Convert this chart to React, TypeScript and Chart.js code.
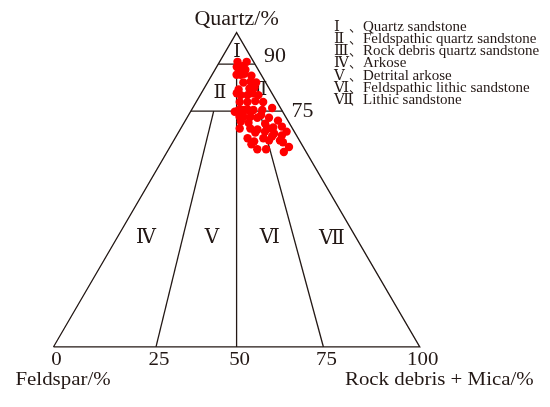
import React, { useEffect, useRef } from "react";
import { Chart, registerables } from "chart.js";

Chart.register(...registerables);

// Sample compositions (%): Q = quartz, R = rock debris + mica; feldspar = 100 - Q - R
const quartz = [
  90.7, 90.7, 89.1, 89.4, 89.4, 88.2, 87.9, 88.2, 86.6, 86.6,
  86.9, 86.3, 84.1, 84.4, 84.1, 82.2, 82.6, 81.9, 80.7, 80.1,
  80.1, 80.7, 80.1, 77.9, 77.9, 78.2, 77.9, 76.0, 74.8, 75.4,
  75.4, 75.4, 75.4, 75.4, 75.4, 73.2, 73.2, 73.2, 72.9, 72.9,
  71.7, 71.3, 71.0, 72.0, 69.5, 69.5, 69.2, 69.5, 69.8, 70.1,
  68.2, 68.5, 67.9, 66.4, 66.4, 67.0, 67.3, 65.4, 65.7, 65.7,
  62.9, 62.9, 63.6, 62.0, 73.8, 64.5, 65.1, 68.5,
];
const rockDebris = [
  4.9, 7.4, 5.5, 6.1, 7.2, 6.5, 7.7, 8.3, 6.7, 7.8,
  8.7, 10.9, 9.8, 11.6, 13.3, 12.4, 13.6, 9.6, 9.7, 11.1,
  12.9, 14.0, 15.9, 11.9, 14.0, 16.0, 18.3, 21.7, 12.1, 12.9,
  13.7, 14.5, 15.5, 16.9, 19.3, 14.2, 15.3, 17.2, 19.2, 22.4,
  15.3, 17.6, 22.3, 25.3, 16.1, 19.0, 21.1, 23.9, 25.1, 27.3,
  21.0, 23.5, 26.3, 19.8, 24.1, 26.2, 28.7, 22.1, 26.0, 29.0,
  24.2, 26.6, 32.5, 31.9, 19.8, 21.8, 30.1, 29.4,
];

// Classification
const romanNumerals = ["Ⅰ", "Ⅱ", "Ⅲ", "Ⅳ", "Ⅴ", "Ⅵ", "Ⅶ"];
const classNames = [
  "Quartz sandstone",
  "Feldspathic quartz sandstone",
  "Rock debris quartz sandstone",
  "Arkose",
  "Detrital arkose",
  "Feldspathic lithic sandstone",
  "Lithic sandstone",
];
const quartzLevels = [90, 75];
const quartzLevelLabels = ["90", "75"];
// Dividing lines: top end at quartz level with R/(F+R) share, bottom end on the base
const dividerTopQ = [90, 75, 75];
const dividerTopShare = [50, 25, 75];
const dividerBaseShare = [50, 28, 73.7];
const baseTickLabels = ["0", "25", "50", "75", "100"];
const baseTickShares = [0, 28, 50, 73.7, 100];

// Layout (not data): anchor compositions of region numerals
const regionLabelQ = [93.8, 80.7, 81.6, 34.6, 34.6, 34.6, 34.3];
const regionLabelR = [3.2, 5.1, 15.1, 8.0, 26.0, 41.8, 58.9];

const INK = "#231815";
const DOT = "#ff0000";
const SERIF = "'Liberation Serif', 'Times New Roman', 'DejaVu Serif', 'Noto Sans CJK SC', serif";

const toXY = (q: number, r: number) => ({ x: r + q / 2, y: q });

function drawText(
  ctx: CanvasRenderingContext2D,
  text: string,
  x: number,
  y: number,
  size: number,
  align: CanvasTextAlign,
  stretch = 1,
  baseline: CanvasTextBaseline = "alphabetic"
) {
  ctx.save();
  ctx.font = `${size}px ${SERIF}`;
  ctx.textAlign = align;
  ctx.textBaseline = baseline;
  ctx.fillStyle = INK;
  ctx.translate(x, y);
  ctx.scale(stretch, 1);
  ctx.fillText(text, 0, 0);
  ctx.restore();
}

const textPlugin = {
  id: "ternaryText",
  beforeDatasetsDraw(chart: any) {
    const { ctx } = chart;
    const xs = chart.scales.x;
    const ys = chart.scales.y;
    const P = (q: number, r: number) => {
      const p = toXY(q, r);
      return [xs.getPixelForValue(p.x), ys.getPixelForValue(p.y)];
    };
    const apex = P(100, 0);
    const left = P(0, 0);
    const right = P(0, 100);

    // Apex title
    drawText(ctx, "Quartz/%", apex[0], apex[1] - 8, 20, "center", 1.1);

    // Quartz level labels
    quartzLevels.forEach((q, i) => {
      const e = P(q, 100 - q);
      const dy = i === 0 ? -2 : 6;
      drawText(ctx, quartzLevelLabels[i], e[0] + 20, e[1] + dy, 20, "center", 1.1);
    });

    // Base tick labels
    baseTickShares.forEach((s, i) => {
      const b = P(0, s);
      drawText(ctx, baseTickLabels[i], b[0] + 3, left[1] + 18, 19, "center", 1.1);
    });

    // Axis titles
    drawText(ctx, "Feldspar/%", left[0] - 38, left[1] + 38, 19, "left", 1.1);
    drawText(ctx, "Rock debris + Mica/%", right[0] + 114, right[1] + 38, 19, "right", 1.1);

    // Region numerals
    romanNumerals.forEach((n, i) => {
      const c = P(regionLabelQ[i], regionLabelR[i]);
      drawText(ctx, n, c[0], c[1], i < 3 ? 19 : 20, "center", 1, "middle");
    });

    // Legend
    romanNumerals.forEach((n, i) => {
      const yy = 30.5 + i * 12.3;
      drawText(ctx, n, 334, yy, 15, "left");
      drawText(ctx, "、", 349, yy, 13, "left");
      drawText(ctx, classNames[i], 363, yy, 15, "left");
    });
  },
};

const lineStyle = {
  showLine: true,
  pointRadius: 0,
  borderColor: INK,
  borderWidth: 1.3,
  fill: false,
  tension: 0,
};

export default function App() {
  const ref = useRef<HTMLCanvasElement | null>(null);

  useEffect(() => {
    if (!ref.current) return;
    const samples = quartz.map((q, i) => toXY(q, rockDebris[i]));
    const outline = [toXY(0, 0), toXY(100, 0), toXY(0, 100), toXY(0, 0)];
    const levelLines = quartzLevels.map((q) => [toXY(q, 0), toXY(q, 100 - q)]);
    const dividers = dividerTopQ.map((q, i) => [
      toXY(q, ((100 - q) * dividerTopShare[i]) / 100),
      toXY(0, dividerBaseShare[i]),
    ]);

    const chart = new Chart(ref.current, {
      type: "scatter",
      data: {
        datasets: [
          {
            label: "Samples",
            data: samples,
            pointRadius: 4.2,
            pointHoverRadius: 4.2,
            backgroundColor: DOT,
            borderColor: DOT,
            borderWidth: 0,
            showLine: false,
          },
          { label: "outline", data: outline, ...lineStyle },
          ...levelLines.map((d, i) => ({ label: "level" + i, data: d, ...lineStyle })),
          ...dividers.map((d, i) => ({ label: "divider" + i, data: d, ...lineStyle })),
        ] as any,
      },
      options: {
        animation: false,
        responsive: false,
        devicePixelRatio: 1,
        layout: { padding: 0 },
        plugins: {
          legend: { display: false },
          tooltip: { enabled: false },
          title: { display: false },
        },
        scales: {
          x: { type: "linear", min: -13.44, max: 134.41, display: false },
          y: { type: "linear", min: -17.76, max: 109.03, display: false },
        },
      },
      plugins: [textPlugin],
    });
    return () => chart.destroy();
  }, []);

  return (
    <div style={{ position: "absolute", left: 0, top: 0, width: 550, height: 407, background: "#fff" }}>
      <canvas ref={ref} width={550} height={407} style={{ display: "block" }} />
    </div>
  );
}
